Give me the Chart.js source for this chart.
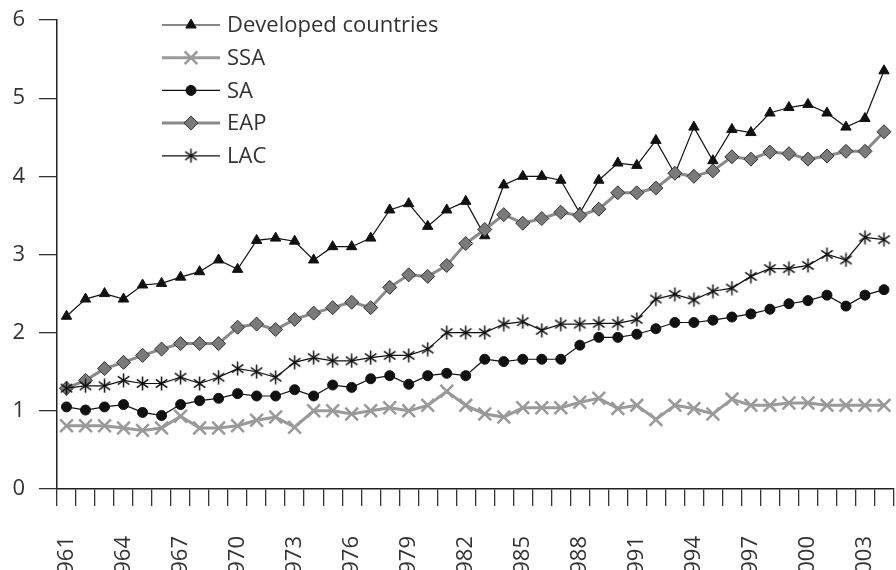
<!DOCTYPE html>
<html>
<head>
<meta charset="utf-8">
<script src="https://cdn.jsdelivr.net/npm/chart.js@4/dist/chart.umd.min.js"></script>
<style>
  html, body { margin: 0; padding: 0; background: #fff; overflow: hidden; }
  #wrap { position: absolute; left: 0; top: 0; width: 905px; height: 570px; }
</style>
</head>
<body>
<div id="wrap"><canvas id="c" width="905" height="570"></canvas></div>
<script>
const years = ['1961','1962','1963','1964','1965','1966','1967','1968','1969','1970',
  '1971','1972','1973','1974','1975','1976','1977','1978','1979','1980',
  '1981','1982','1983','1984','1985','1986','1987','1988','1989','1990',
  '1991','1992','1993','1994','1995','1996','1997','1998','1999','2000',
  '2001','2002','2003','2004'];
const yTicks = [0, 1, 2, 3, 4, 5, 6];
const seriesNames = ['Developed countries', 'SSA', 'SA', 'EAP', 'LAC'];

const developed = [2.21,2.43,2.50,2.43,2.61,2.63,2.71,2.78,2.93,2.81,
  3.18,3.21,3.17,2.93,3.10,3.10,3.21,3.57,3.65,3.36,
  3.57,3.68,3.24,3.89,4.00,4.00,3.95,3.53,3.95,4.17,
  4.14,4.46,4.03,4.63,4.20,4.60,4.56,4.81,4.88,4.92,
  4.81,4.63,4.74,5.35];
const ssa = [0.81,0.81,0.81,0.78,0.75,0.78,0.93,0.78,0.78,0.81,
  0.88,0.92,0.79,1.00,1.00,0.96,1.00,1.04,1.00,1.07,
  1.25,1.07,0.96,0.92,1.04,1.04,1.04,1.11,1.16,1.03,
  1.07,0.89,1.07,1.03,0.96,1.15,1.07,1.07,1.10,1.10,
  1.07,1.07,1.07,1.07];
const sa = [1.05,1.01,1.05,1.08,0.98,0.94,1.08,1.13,1.16,1.22,
  1.19,1.19,1.27,1.19,1.33,1.30,1.41,1.45,1.34,1.45,
  1.48,1.45,1.66,1.63,1.66,1.66,1.66,1.84,1.94,1.94,
  1.98,2.05,2.13,2.13,2.16,2.20,2.24,2.30,2.37,2.41,
  2.48,2.34,2.48,2.55];
const eap = [1.29,1.39,1.54,1.62,1.71,1.79,1.86,1.86,1.86,2.07,
  2.11,2.04,2.17,2.25,2.32,2.39,2.32,2.58,2.74,2.72,
  2.86,3.14,3.32,3.51,3.40,3.46,3.54,3.50,3.58,3.79,
  3.79,3.85,4.04,4.00,4.07,4.25,4.22,4.31,4.29,4.22,
  4.26,4.32,4.32,4.57];
const lac = [1.29,1.32,1.32,1.39,1.35,1.35,1.43,1.35,1.43,1.54,
  1.50,1.43,1.62,1.68,1.64,1.64,1.68,1.71,1.71,1.79,
  2.00,2.00,2.00,2.11,2.14,2.03,2.11,2.11,2.12,2.12,
  2.17,2.43,2.49,2.42,2.53,2.57,2.72,2.82,2.82,2.86,
  3.00,2.93,3.22,3.19];

function makeAsterisk(size, lw) {
  const c = document.createElement('canvas');
  c.width = size; c.height = size;
  const g = c.getContext('2d');
  g.strokeStyle = '#111'; g.lineWidth = lw; g.lineCap = 'butt';
  const cx = size / 2, r = size / 2 - 0.5;
  g.beginPath();
  [90, 35, 145].forEach(a => {
    const rad = a * Math.PI / 180;
    g.moveTo(cx - r * Math.cos(rad), cx - r * Math.sin(rad));
    g.lineTo(cx + r * Math.cos(rad), cx + r * Math.sin(rad));
  });
  g.stroke();
  return c;
}
const asterisk = makeAsterisk(15, 1.5);

const FONT = '"Open Sans", "Liberation Sans", sans-serif';
const TXT = '#333';

const legendPlugin = {
  id: 'insideLegend',
  afterDraw(chart) {
    const ctx = chart.ctx;
    const x0 = chart.chartArea.left + 105, x1 = x0 + 58, xm = (x0 + x1) / 2;
    const top = chart.chartArea.top + 5, gap = 32.7;
    chart.data.datasets.forEach((ds, i) => {
      const y = top + i * gap;
      ctx.save();
      ctx.strokeStyle = ds.borderColor;
      ctx.lineWidth = ds.borderWidth;
      ctx.beginPath(); ctx.moveTo(x0, y); ctx.lineTo(x1, y); ctx.stroke();
      ctx.fillStyle = ds.pointBackgroundColor;
      ctx.strokeStyle = ds.pointBorderColor;
      ctx.lineWidth = ds.pointBorderWidth;
      Chart.helpers.drawPoint(ctx, {
        pointStyle: ds.pointStyle, radius: ds.pointRadius, rotation: 0,
        borderWidth: ds.pointBorderWidth
      }, xm, y);
      ctx.fillStyle = TXT;
      ctx.font = '22px ' + FONT;
      ctx.textBaseline = 'middle';
      ctx.textAlign = 'left';
      ctx.fillText(ds.label, x1 + 7, y + 1);
      ctx.restore();
    });
  }
};

new Chart(document.getElementById('c'), {
  type: 'line',
  data: {
    labels: years,
    datasets: [
      { label: seriesNames[0], data: developed, order: 4,
        borderColor: '#111', borderWidth: 1.2,
        pointStyle: 'triangle', pointRadius: 6,
        pointBackgroundColor: '#111', pointBorderColor: '#111', pointBorderWidth: 1 },
      { label: seriesNames[1], data: ssa, order: 3,
        borderColor: '#9a9a9a', borderWidth: 3,
        pointStyle: 'crossRot', pointRadius: 9,
        pointBackgroundColor: '#9a9a9a', pointBorderColor: '#9a9a9a', pointBorderWidth: 2.5 },
      { label: seriesNames[2], data: sa, order: 2,
        borderColor: '#111', borderWidth: 1.2,
        pointStyle: 'circle', pointRadius: 5,
        pointBackgroundColor: '#111', pointBorderColor: '#111', pointBorderWidth: 1 },
      { label: seriesNames[3], data: eap, order: 1,
        borderColor: '#8a8a8a', borderWidth: 3,
        pointStyle: 'rectRot', pointRadius: 7,
        pointBackgroundColor: '#7a7a7a', pointBorderColor: '#333', pointBorderWidth: 1 },
      { label: seriesNames[4], data: lac, order: 0,
        borderColor: '#111', borderWidth: 1.2,
        pointStyle: asterisk, pointRadius: 7,
        pointBackgroundColor: '#111', pointBorderColor: '#111', pointBorderWidth: 1.5 }
    ]
  },
  options: {
    responsive: false,
    animation: false,
    events: [],
    layout: { padding: { left: 0, right: 1, top: 20, bottom: 0 } },
    elements: { line: { tension: 0 } },
    plugins: { legend: { display: false }, tooltip: { enabled: false } },
    scales: {
      x: {
        type: 'category',
        offset: true,
        grid: { offset: true, drawOnChartArea: false, tickLength: 17, color: '#333', lineWidth: 1.3 },
        border: { display: true, color: '#222', width: 1.5 },
        ticks: {
          autoSkip: false, maxRotation: 90, minRotation: 90, padding: 30,
          color: TXT, font: { family: FONT, size: 22 },
          callback: (v, i) => (i % 3 === 0 ? years[i] : '')
        },
        afterFit: (s) => { s.height = 81; s.paddingLeft = 0; s.paddingRight = 0; }
      },
      y: {
        min: 0, max: 6,
        afterBuildTicks: (s) => { s.ticks = yTicks.map(v => ({ value: v })); },
        grid: { drawOnChartArea: false, tickLength: 18, color: '#333', lineWidth: 1.3 },
        border: { display: true, color: '#222', width: 1.5 },
        ticks: { padding: 14, color: TXT, font: { family: FONT, size: 22 } },
        afterFit: (s) => { s.width = 57; s.paddingTop = 0; s.paddingBottom = 0; }
      }
    }
  },
  plugins: [legendPlugin]
});
</script>
</body>
</html>
